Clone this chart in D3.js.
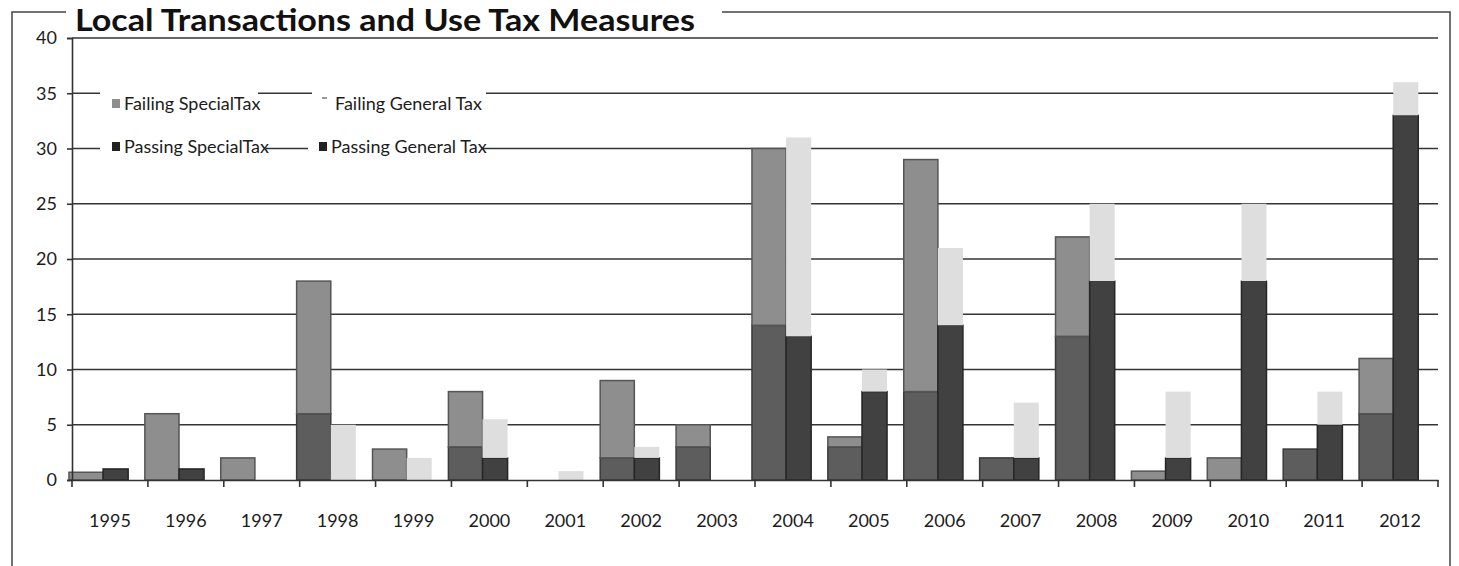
<!DOCTYPE html>
<html>
<head>
<meta charset="utf-8">
<script src="https://cdnjs.cloudflare.com/ajax/libs/d3/7.8.5/d3.min.js"></script>
<style>
  body { margin: 0; background: #fff; }
  text { font-family: Lato, "Open Sans", sans-serif; fill: #1c1c1c; }
</style>
</head>
<body>
<div id="chart"></div>
<script>
// values (number of measures)
const years = [1995, 1996, 1997, 1998, 1999, 2000, 2001, 2002, 2003,
               2004, 2005, 2006, 2007, 2008, 2009, 2010, 2011, 2012];
const passingSpecial = [0, 0, 0, 6, 0, 3, 0, 2, 3, 14, 3, 8, 2, 13, 0, 0, 2.8, 6];
const failingSpecial = [0.7, 6, 2, 12, 2.8, 5, 0, 7, 2, 16, 0.9, 21, 0, 9, 0.8, 2, 0, 5];
const passingGeneral = [1, 1, 0, 0, 0, 2, 0, 2, 0, 13, 8, 14, 2, 18, 2, 18, 5, 33];
const failingGeneral = [0, 0, 0, 5, 2, 3.5, 0.8, 1, 0, 18, 2, 7, 5, 7, 6, 7, 3, 3];
const yTicks = [0, 5, 10, 15, 20, 25, 30, 35, 40];
const legendLabels = ["Failing SpecialTax", "Failing General Tax", "Passing SpecialTax", "Passing General Tax"];
const title = "Local Transactions and Use Tax Measures";

class TaxMeasuresChart {
  constructor () {
    this.w = 1459;
    this.h = 566;
    this.left = 72;
    this.right = 1438;
    this.top = 38;
    this.bottom = 480;

    this.colors = {
      passingSpecial: "#5d5d5d",
      failingSpecial: "#8e8e8e",
      passingGeneral: "#414141",
      failingGeneral: "#dedede"
    };
  }

  render () {
    this.initializeSVG();
    this.computeScaleFns();
    this.addFrame();
    this.addGrid();
    this.addLegend();
    this.addBars();
    this.addAxis();
    this.addTitle();
  }

  initializeSVG () {
    this.svg = d3.select("#chart")
      .append("svg")
      .attr("width", this.w)
      .attr("height", this.h);
  }

  computeScaleFns () {
    this.x = d3.scaleBand()
      .domain(years)
      .range([this.left, this.right])
      .padding(0);

    this.y = d3.scaleLinear()
      .domain([0, 40])
      .range([this.bottom, this.top]);
  }

  // outer border of the chart area, runs off the bottom of the scan
  addFrame () {
    this.svg.append("rect")
      .attr("x", 12)
      .attr("y", 12)
      .attr("width", 1438)
      .attr("height", 620)
      .style("fill", "none")
      .style("stroke", "#444")
      .style("stroke-width", 1.5);
  }

  addGrid () {
    this.svg.append("g")
      .attr("class", "grid")
      .selectAll("line")
      .data(yTicks.filter(d => d > 0))
      .enter().append("line")
      .attr("x1", this.left)
      .attr("x2", this.right)
      .attr("y1", d => this.y(d))
      .attr("y2", d => this.y(d))
      .style("stroke", "#353535")
      .style("stroke-width", 1.6);
  }

  addBars () {
    let bw = this.x.bandwidth();
    let stackFn = d3.stack().keys(["passing", "failing"]);

    let groups = [
      {
        name: "special",
        rows: years.map((yr, i) => ({ year: yr, passing: passingSpecial[i], failing: failingSpecial[i] })),
        fill: { passing: this.colors.passingSpecial, failing: this.colors.failingSpecial },
        stroke: { passing: "#3a3a3a", failing: "#555" },
        x0: -0.04, x1: 0.41
      },
      {
        name: "general",
        rows: years.map((yr, i) => ({ year: yr, passing: passingGeneral[i], failing: failingGeneral[i] })),
        fill: { passing: this.colors.passingGeneral, failing: this.colors.failingGeneral },
        stroke: { passing: "#262626", failing: "none" },
        x0: 0.41, x1: 0.74
      }
    ];

    groups.forEach(g => {
      let layers = stackFn(g.rows);
      let grp = this.svg.append("g").attr("class", "bars-" + g.name);

      layers.forEach(layer => {
        grp.selectAll(".seg-" + layer.key)
          .data(layer.filter(d => d[1] - d[0] > 0))
          .enter().append("rect")
          .attr("class", "seg-" + layer.key)
          .attr("x", d => this.x(d.data.year) + bw * g.x0)
          .attr("width", bw * (g.x1 - g.x0))
          .attr("y", d => this.y(d[1]))
          .attr("height", d => this.y(d[0]) - this.y(d[1]))
          .style("fill", g.fill[layer.key])
          .style("stroke", g.stroke[layer.key])
          .style("stroke-width", 1.5);
      });
    });
  }

  addAxis () {
    // y axis with ticks poking out to the left
    let yAxis = d3.axisLeft(this.y)
      .tickValues(yTicks)
      .tickSize(5)
      .tickPadding(10);

    let gy = this.svg.append("g")
      .attr("transform", `translate(${this.left}, 0)`)
      .call(yAxis);

    gy.selectAll("text").style("font-size", "18px");

    // x axis, labels centred under each year
    let xAxis = d3.axisBottom(this.x)
      .tickSize(0)
      .tickPadding(34);

    let gx = this.svg.append("g")
      .attr("transform", `translate(0, ${this.bottom})`)
      .call(xAxis);

    gx.selectAll("text").style("font-size", "18px");

    // tick marks sit on the category boundaries
    let edges = years.map(d => this.x(d)).concat([this.right]);
    gx.selectAll(".edge")
      .data(edges)
      .enter().append("line")
      .attr("class", "edge")
      .attr("x1", d => d)
      .attr("x2", d => d)
      .attr("y1", 0)
      .attr("y2", 7);

    this.svg.selectAll(".domain, .tick line, .edge")
      .style("stroke", "#333")
      .style("stroke-width", 1.6);
  }

  addLegend () {
    let items = [
      { label: legendLabels[0], color: this.colors.failingSpecial, mk: "box", x: 112, y: 104, bg: [100, 258] },
      { label: legendLabels[1], color: "#9a9a9a", mk: "dash", x: 322, y: 104, bg: [312, 486] },
      { label: legendLabels[2], color: "#222", mk: "box", x: 112, y: 147, bg: [100, 266] },
      { label: legendLabels[3], color: "#222", mk: "box", x: 319, y: 147, bg: [308, 482] }
    ];

    let lg = this.svg.append("g").attr("class", "legend");

    let item = lg.selectAll(".legend-item")
      .data(items)
      .enter().append("g")
      .attr("class", "legend-item");

    // white patch so the gridlines break around each entry
    item.append("rect")
      .attr("x", d => d.bg[0])
      .attr("y", d => d.y - 13)
      .attr("width", d => d.bg[1] - d.bg[0])
      .attr("height", 26)
      .style("fill", "#fff");

    item.append("rect")
      .attr("x", d => d.x)
      .attr("y", d => d.mk === "box" ? d.y - 5 : d.y - 7)
      .attr("width", d => d.mk === "box" ? 8 : 5)
      .attr("height", d => d.mk === "box" ? 9 : 2)
      .style("fill", d => d.color);

    item.append("text")
      .attr("x", d => d.x + (d.mk === "box" ? 12 : 13))
      .attr("y", d => d.y + 6)
      .style("font-size", "18px")
      .text(d => d.label);
  }

  addTitle () {
    this.svg.append("rect")
      .attr("x", 66)
      .attr("y", 0)
      .attr("width", 656)
      .attr("height", 26)
      .style("fill", "#fff");

    this.svg.append("text")
      .attr("x", 75)
      .attr("y", 31)
      .attr("textLength", 620)
      .attr("lengthAdjust", "spacingAndGlyphs")
      .style("font-size", "30px")
      .style("font-weight", "bold")
      .style("fill", "#111")
      .text(title);
  }
}

new TaxMeasuresChart().render();
</script>
</body>
</html>
